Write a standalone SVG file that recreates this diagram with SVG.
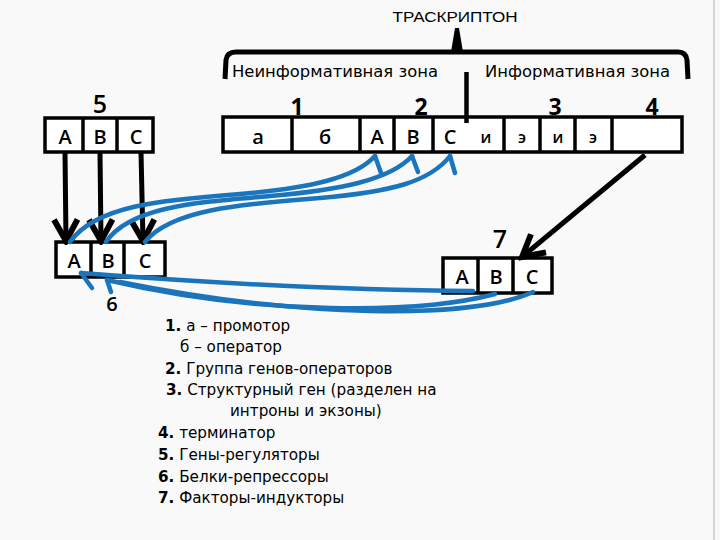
<svg xmlns="http://www.w3.org/2000/svg" width="720" height="540" viewBox="0 0 720 540">
<style>
.box{fill:#ffffff;stroke:#000;stroke-width:3.5}
.div{stroke:#000;stroke-width:3.5}
.lt{font-family:"Open Sans","Noto Sans",sans-serif;font-size:20px;font-weight:600;fill:#000;text-anchor:middle}
.sm{font-family:"Open Sans","Noto Sans",sans-serif;font-size:16px;font-weight:600;fill:#000;text-anchor:middle}
.num{font-family:"Open Sans","Noto Sans",sans-serif;font-size:23px;font-weight:bold;fill:#000;text-anchor:middle}
.lab{font-family:"Open Sans","Noto Sans",sans-serif;font-size:25px;font-weight:600;fill:#000;text-anchor:middle}
.zone{font-family:"DejaVu Sans","Liberation Sans",sans-serif;font-size:15px;fill:#000}
.leg{font-family:"DejaVu Sans","Liberation Sans",sans-serif;font-size:15.2px;fill:#000}
.leg tspan.b{font-weight:bold}
.blk{stroke:#000;stroke-width:5;fill:none}
.blue{stroke:#1b75bc;stroke-width:4.5;fill:none;stroke-linecap:round}
</style>
<defs>
<marker id="ah" markerUnits="userSpaceOnUse" markerWidth="30" markerHeight="30" viewBox="-24 -12 28 24" refX="0" refY="0" orient="auto">
<path d="M-20,-11 L0,0 L-20,11" fill="none" stroke="#000" stroke-width="5.5"/>
</marker>
</defs>
<rect x="0" y="0" width="720" height="540" fill="#f9f9f9"/>
<line x1="714" y1="0" x2="714" y2="540" stroke="#c9c9c9" stroke-width="1.5"/>

<g id="title">
<text x="455" y="22" font-family="Liberation Sans, sans-serif" font-size="15" text-anchor="middle" textLength="125" lengthAdjust="spacingAndGlyphs">ТРАСКРИПТОН</text>
<path d="M225,79 L226,60 Q227,52 236,52 L678,52 Q686,52 687,60 L688,79" fill="none" stroke="#000" stroke-width="5"/>
<path d="M455,28 L459,28 L463,52 L451,52 Z" fill="#000"/>
<text class="zone" x="232" y="77" textLength="206" lengthAdjust="spacingAndGlyphs">Неинформативная зона</text>
<text class="zone" x="485" y="77" textLength="185" lengthAdjust="spacingAndGlyphs">Информативная зона</text>
</g>

<g id="operon">
<rect class="box" x="223" y="117" width="459" height="35"/>
<line class="div" x1="292" y1="117" x2="292" y2="152"/>
<line class="div" x1="360" y1="117" x2="360" y2="152"/>
<line class="div" x1="394" y1="117" x2="394" y2="152"/>
<line class="div" x1="433" y1="117" x2="433" y2="152"/>
<line class="div" x1="504" y1="117" x2="504" y2="152"/>
<line class="div" x1="540" y1="117" x2="540" y2="152"/>
<line class="div" x1="575" y1="117" x2="575" y2="152"/>
<line class="div" x1="612" y1="117" x2="612" y2="152"/>
<text class="lt" x="258" y="144">а</text>
<text class="lt" x="325" y="144">б</text>
<text class="lt" x="377" y="144">A</text>
<text class="lt" x="413" y="144">B</text>
<text class="lt" x="450" y="144">C</text>
<text class="sm" x="486" y="143">и</text>
<text class="sm" x="522" y="143">э</text>
<text class="sm" x="558" y="143">и</text>
<text class="sm" x="593" y="143">э</text>
<line x1="466.5" y1="72" x2="466.5" y2="123" stroke="#000" stroke-width="4.5"/>
<text class="num" x="297" y="115">1</text>
<text class="num" x="421" y="115">2</text>
<text class="num" x="555" y="115">3</text>
<text class="num" x="652" y="115">4</text>
</g>

<g id="regulators">
<rect class="box" x="45" y="118" width="108" height="34"/>
<line class="div" x1="83" y1="118" x2="83" y2="152"/>
<line class="div" x1="117" y1="118" x2="117" y2="152"/>
<text class="lt" x="65" y="144">A</text>
<text class="lt" x="100" y="144">B</text>
<text class="lt" x="136" y="144">C</text>
<text class="lab" x="100" y="113">5</text>
</g>

<g id="repressors">
<rect class="box" x="56" y="242" width="109" height="35"/>
<line class="div" x1="91" y1="242" x2="91" y2="277"/>
<line class="div" x1="124" y1="242" x2="124" y2="277"/>
<text class="lt" x="74" y="268">A</text>
<text class="lt" x="108" y="268">B</text>
<text class="lt" x="145" y="268">C</text>
<text class="lab" x="112" y="311" style="font-size:20px">6</text>
</g>

<g id="inductors">
<rect class="box" x="443" y="258" width="109" height="35"/>
<line class="div" x1="478" y1="258" x2="478" y2="293"/>
<line class="div" x1="513" y1="258" x2="513" y2="293"/>
<text class="lt" x="462" y="284">A</text>
<text class="lt" x="496" y="284">B</text>
<text class="lt" x="532" y="284">C</text>
<text class="lab" x="500" y="248">7</text>
</g>

<g id="connectors">
<line class="blk" x1="65" y1="152" x2="66" y2="241" marker-end="url(#ah)"/>
<line class="blk" x1="100" y1="152" x2="101" y2="241" marker-end="url(#ah)"/>
<line class="blk" x1="141" y1="152" x2="143" y2="241" marker-end="url(#ah)"/>
<line class="blk" x1="645" y1="155" x2="522" y2="257" marker-end="url(#ah)"/>

<path class="blue" d="M70,242 C95,206 160,200 240,194 C310,188 355,178 375,156"/>
<path class="blue" d="M106,242 C130,206 200,202 270,196 C340,190 390,180 412,156"/>
<path class="blue" d="M145,242 C170,210 240,204 320,198 C390,192 430,182 450,156"/>
<line class="blue" x1="375" y1="156" x2="381" y2="173"/>
<line class="blue" x1="412" y1="156" x2="418" y2="172"/>
<line class="blue" x1="450" y1="156" x2="455" y2="173"/>

<path class="blue" d="M473,291 Q300,290 81,273"/>
<path class="blue" d="M495,294 C420,314 260,316 107,280"/>
<path class="blue" d="M533,292 C470,320 300,318 120,282"/>
<line class="blue" x1="81" y1="273" x2="92" y2="288"/>
<line class="blue" x1="107" y1="280" x2="111" y2="292"/>
</g>

<g id="legend">
<text class="leg" x="165" y="331"><tspan class="b">1.</tspan> а – промотор</text>
<text class="leg" x="180" y="352">б – оператор</text>
<text class="leg" x="165" y="374"><tspan class="b">2.</tspan> Группа генов-операторов</text>
<text class="leg" x="166" y="395"><tspan class="b">3.</tspan> Структурный ген (разделен на</text>
<text class="leg" x="230" y="416">интроны и  экзоны)</text>
<text class="leg" x="158" y="438"><tspan class="b">4.</tspan> терминатор</text>
<text class="leg" x="158" y="460"><tspan class="b">5.</tspan> Гены-регуляторы</text>
<text class="leg" x="158" y="482"><tspan class="b">6.</tspan> Белки-репрессоры</text>
<text class="leg" x="158" y="503"><tspan class="b">7.</tspan> Факторы-индукторы</text>
</g>
</svg>
